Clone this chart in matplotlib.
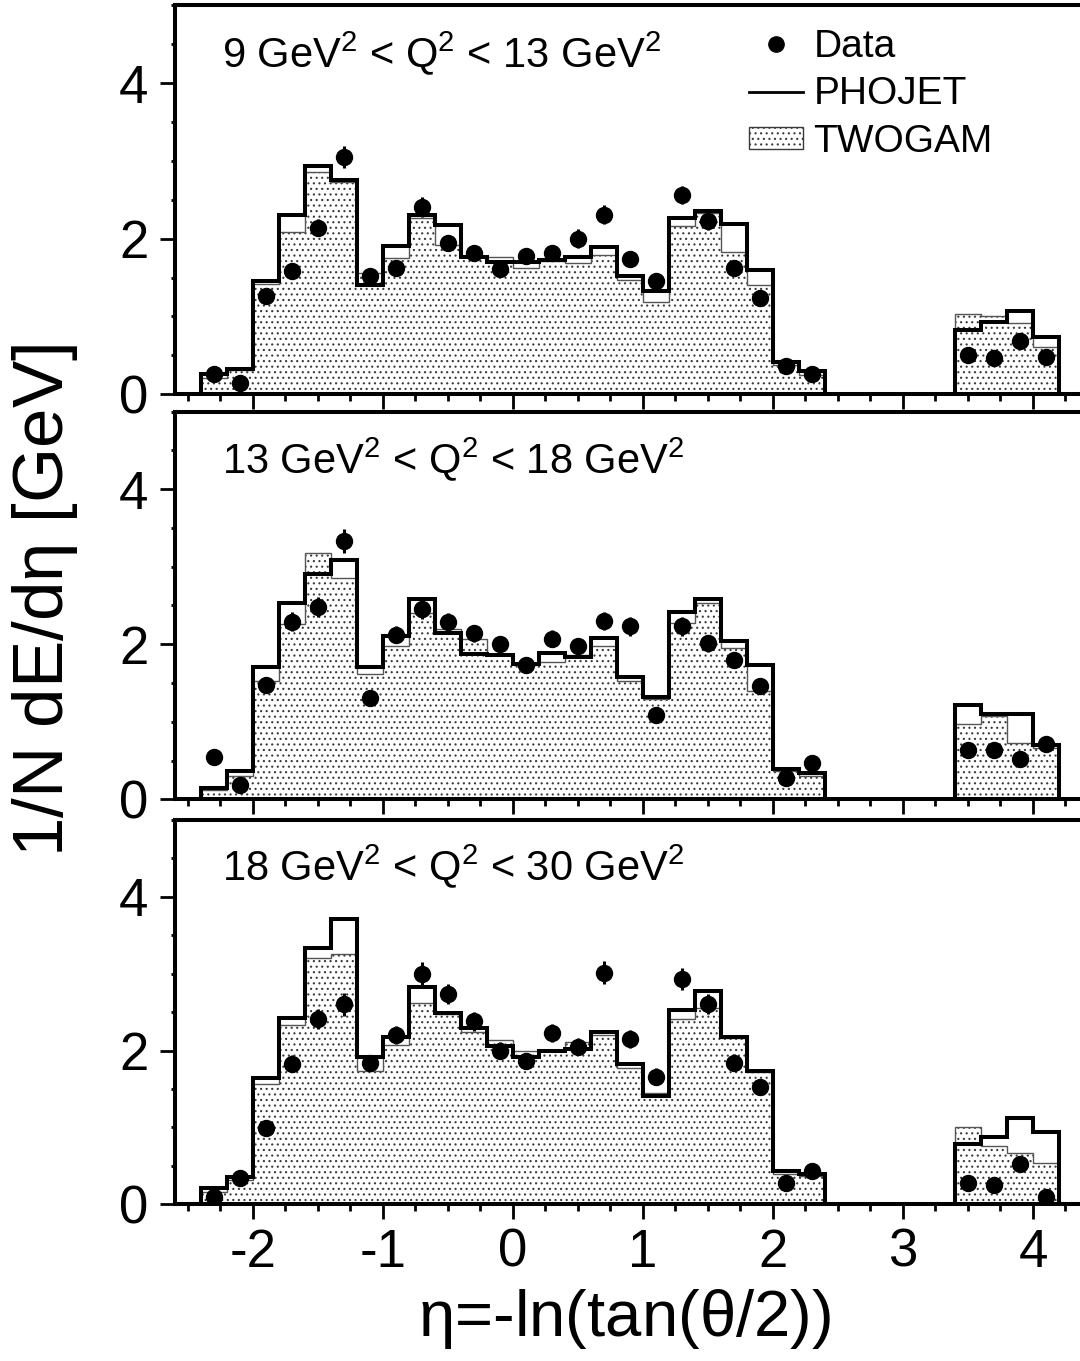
import matplotlib
matplotlib.use("Agg")
import matplotlib.pyplot as plt
from matplotlib.lines import Line2D
from matplotlib.patches import Patch
from matplotlib.ticker import MultipleLocator, FuncFormatter

FONT = "Liberation Sans"
TICK_SIZE = 38
YLABEL_SIZE = 51
XLABEL_SIZE = 47
TEXT_SIZE = 30
LEGEND_SIZE = 28

# bin centres in eta (bins of width 0.2)
eta = [-2.3, -2.1, -1.9, -1.7, -1.5, -1.3, -1.1, -0.9, -0.7, -0.5, -0.3, -0.1,
       0.1, 0.3, 0.5, 0.7, 0.9, 1.1, 1.3, 1.5, 1.7, 1.9, 2.1, 2.3,
       3.5, 3.7, 3.9, 4.1]
half_width = 0.1
n_central = 24

q2_labels = [
    r"9 GeV$^2$ < Q$^2$ < 13 GeV$^2$",
    r"13 GeV$^2$ < Q$^2$ < 18 GeV$^2$",
    r"18 GeV$^2$ < Q$^2$ < 30 GeV$^2$",
]

data1 = [0.26, 0.15, 1.26, 1.58, 2.14, 3.05, 1.52, 1.62, 2.41, 1.94, 1.81, 1.61,
         1.78, 1.81, 2.00, 2.31, 1.74, 1.46, 2.56, 2.23, 1.62, 1.24, 0.36, 0.26,
         0.51, 0.47, 0.68, 0.48]
err1 = [0.05, 0.05, 0.08, 0.09, 0.11, 0.14, 0.08, 0.09, 0.13, 0.10, 0.09, 0.09,
        0.09, 0.10, 0.12, 0.12, 0.10, 0.08, 0.12, 0.12, 0.09, 0.08, 0.05, 0.05,
        0.06, 0.06, 0.07, 0.06]
phojet1 = [0.26, 0.33, 1.46, 2.31, 2.93, 2.75, 1.41, 1.90, 2.30, 2.17, 1.76, 1.70,
           1.70, 1.72, 1.76, 1.89, 1.52, 1.33, 2.27, 2.36, 2.19, 1.60, 0.42, 0.30,
           0.83, 0.93, 1.07, 0.74]
twogam1 = [0.21, 0.31, 1.42, 2.09, 2.86, 2.73, 1.56, 1.75, 2.26, 1.92, 1.78, 1.76,
           1.62, 1.71, 1.69, 1.79, 1.47, 1.18, 2.16, 2.33, 1.83, 1.41, 0.38, 0.25,
           1.03, 1.01, 0.91, 0.61]

data2 = [0.55, 0.18, 1.48, 2.29, 2.48, 3.33, 1.31, 2.12, 2.45, 2.29, 2.14, 2.00,
         1.73, 2.07, 1.98, 2.30, 2.23, 1.09, 2.23, 2.01, 1.80, 1.46, 0.28, 0.47,
         0.63, 0.64, 0.52, 0.71]
err2 = [0.06, 0.05, 0.09, 0.12, 0.13, 0.16, 0.09, 0.11, 0.12, 0.11, 0.11, 0.10,
        0.09, 0.11, 0.10, 0.12, 0.12, 0.08, 0.12, 0.11, 0.10, 0.09, 0.05, 0.06,
        0.07, 0.07, 0.07, 0.07]
phojet2 = [0.15, 0.37, 1.70, 2.53, 2.91, 3.09, 1.71, 2.11, 2.58, 2.14, 1.88, 1.86,
           1.75, 1.89, 1.83, 2.08, 1.58, 1.32, 2.41, 2.58, 2.04, 1.73, 0.39, 0.34,
           1.22, 1.10, 1.10, 0.70]
twogam2 = [0.12, 0.30, 1.52, 2.26, 3.18, 2.85, 1.62, 1.98, 2.40, 2.20, 2.07, 1.86,
           1.73, 1.77, 1.86, 1.98, 1.53, 1.30, 2.27, 2.53, 1.95, 1.40, 0.36, 0.30,
           0.97, 1.07, 0.72, 0.66]

data3 = [0.09, 0.34, 0.99, 1.83, 2.41, 2.60, 1.84, 2.20, 3.00, 2.73, 2.38, 2.00,
         1.86, 2.23, 2.05, 3.01, 2.15, 1.66, 2.93, 2.60, 1.84, 1.53, 0.28, 0.43,
         0.28, 0.25, 0.52, 0.09]
err3 = [0.05, 0.06, 0.08, 0.11, 0.13, 0.15, 0.10, 0.12, 0.15, 0.13, 0.12, 0.11,
        0.10, 0.12, 0.11, 0.15, 0.12, 0.11, 0.14, 0.13, 0.11, 0.10, 0.05, 0.06,
        0.06, 0.06, 0.07, 0.05]
phojet3 = [0.21, 0.36, 1.64, 2.42, 3.33, 3.71, 1.92, 2.18, 2.82, 2.49, 2.29, 2.06,
           1.92, 2.00, 2.02, 2.24, 1.82, 1.41, 2.53, 2.77, 2.18, 1.73, 0.43, 0.40,
           0.79, 0.88, 1.12, 0.94]
twogam3 = [0.16, 0.32, 1.56, 2.33, 3.20, 3.26, 1.73, 2.07, 2.62, 2.48, 2.24, 2.14,
           1.99, 1.99, 2.11, 2.20, 1.77, 1.45, 2.41, 2.55, 2.16, 1.72, 0.40, 0.37,
           1.01, 0.76, 0.67, 0.54]

panels = [
    (data1, err1, phojet1, twogam1),
    (data2, err2, phojet2, twogam2),
    (data3, err3, phojet3, twogam3),
]

# panel placement (figure fractions): bottom, height
PANEL_BOXES = [(0.7103, 0.2858), (0.4127, 0.2849), (0.1151, 0.2826)]
LEFT, WIDTH = 0.162, 0.8426
LW = 2.9


def set_params():
    plt.rcParams["font.family"] = [FONT, "DejaVu Sans"]
    plt.rcParams["mathtext.fontset"] = "custom"
    plt.rcParams["mathtext.rm"] = FONT
    plt.rcParams["mathtext.default"] = "regular"
    plt.rcParams["hatch.linewidth"] = 0.8
    plt.rcParams["hatch.color"] = "#3a3a3a"


def edges_of(centres):
    return [c - half_width for c in centres] + [centres[-1] + half_width]


def draw_panel(ax, data, err, phojet, twogam):
    groups = [slice(0, n_central), slice(n_central, len(eta))]
    for sl in groups:
        e = edges_of(eta[sl])
        ax.stairs(twogam[sl], e, baseline=0, fill=True, facecolor="white",
                  edgecolor="#3a3a3a", hatch="...", linewidth=0, zorder=1)
        ax.stairs(twogam[sl], e, baseline=0, color="#555555", linewidth=1.0,
                  zorder=2)
        ax.stairs(phojet[sl], e, baseline=0, color="black", linewidth=LW,
                  zorder=3)
    ax.errorbar(eta, data, yerr=err, fmt="o", color="black", markersize=11.5,
                elinewidth=2.2, capsize=0, zorder=5)

    ax.set_xlim(-2.6, 4.4)
    ax.set_ylim(0, 5)
    ax.xaxis.set_major_locator(MultipleLocator(1))
    ax.xaxis.set_minor_locator(MultipleLocator(0.25))
    ax.yaxis.set_major_locator(MultipleLocator(2))
    ax.yaxis.set_minor_locator(MultipleLocator(0.5))
    plain = FuncFormatter(lambda v, pos: f"{v:g}")
    ax.xaxis.set_major_formatter(plain)
    ax.yaxis.set_major_formatter(plain)
    ax.tick_params(which="both", direction="out", width=2.0, top=False,
                   right=False, labelsize=TICK_SIZE)
    ax.tick_params(axis="x", which="major", length=11, pad=6)
    ax.tick_params(axis="x", which="minor", length=5)
    ax.tick_params(axis="y", which="major", length=11, pad=8)
    ax.tick_params(axis="y", which="minor", length=3)
    for sp in ax.spines.values():
        sp.set_linewidth(LW)


set_params()
fig = plt.figure(figsize=(10.8, 13.61), dpi=100)

axes = []
for (bottom, height), (data, err, phojet, twogam), label in zip(PANEL_BOXES, panels, q2_labels):
    ax = fig.add_axes([LEFT, bottom, WIDTH, height])
    draw_panel(ax, data, err, phojet, twogam)
    ax.text(0.0516, 0.842, label, transform=ax.transAxes, fontsize=TEXT_SIZE,
            va="baseline", ha="left")
    axes.append(ax)

for ax in axes[:-1]:
    ax.tick_params(axis="x", labelbottom=False)

handles = [
    Line2D([], [], marker="o", color="black", linestyle="none", markersize=11),
    Line2D([], [], color="black", linewidth=2),
    Patch(facecolor="white", edgecolor="#3a3a3a", hatch="...", linewidth=1.0),
]
axes[0].legend(handles, ["Data", "PHOJET", "TWOGAM"], loc="upper left",
               bbox_to_anchor=(0.631, 0.94), frameon=False, fontsize=LEGEND_SIZE,
               handlelength=1.39, handleheight=0.5, handletextpad=0.26,
               labelspacing=0.3, borderpad=0, borderaxespad=0)

fig.text(0.042, 0.559, r"1/N dE/d$\eta$ [GeV]", rotation=90, fontsize=YLABEL_SIZE,
         ha="center", va="center")
fig.text(0.578, 0.031, r"$\eta$=-ln(tan($\theta$/2))", fontsize=XLABEL_SIZE,
         ha="center", va="center")

fig.savefig("out.png", dpi=100)
plt.close(fig)
